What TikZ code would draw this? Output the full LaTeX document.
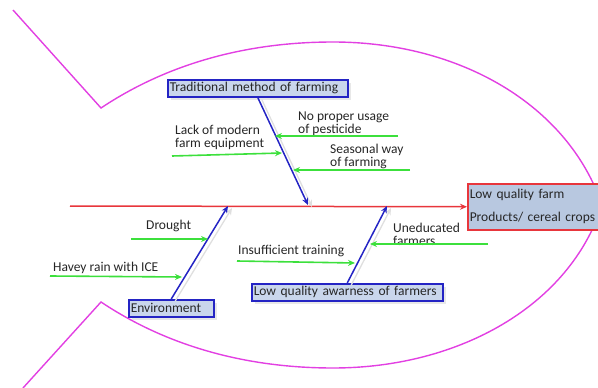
\documentclass[tikz,border=0pt]{standalone}
\usepackage{fontspec}
\setmainfont{Carlito}
\usetikzlibrary{arrows.meta,shadows}
\definecolor{fishpink}{HTML}{E240E2}
\definecolor{spinered}{HTML}{E8363C}
\definecolor{boneblue}{HTML}{2424C4}
\definecolor{twiggreen}{HTML}{3CE03C}
\definecolor{causefill}{HTML}{C9D6EC}
\definecolor{effectfill}{HTML}{B8C8E0}
\definecolor{inkgray}{HTML}{262626}
\tikzset{
  fishline/.style={draw=fishpink, line width=1.4pt},
  cause/.style={draw=boneblue, line width=1.5pt, fill=causefill, inner xsep=2pt, inner ysep=1.5pt,
    minimum height=17pt, align=left, text=inkgray, font=\fontsize{13.5}{14}\selectfont,
    drop shadow={fill=gray!35, shadow xshift=3pt, shadow yshift=-3pt}},
  effect/.style={draw=spinered, line width=1.5pt, fill=effectfill, inner xsep=2pt, inner ysep=2pt,
    minimum height=46pt, align=left, text=inkgray, font=\fontsize{13.5}{23}\selectfont},
  subcause/.style={inner sep=0pt, align=left, text=inkgray, font=\fontsize{13.5}{13}\selectfont},
  bone/.style={->, draw=boneblue, line width=1.5pt,
    preaction={draw=gray!25, line width=1.3pt, transform canvas={xshift=4pt, yshift=-2pt}}},
  twig/.style={->, draw=twiggreen, line width=1.6pt},
  spine/.style={->, draw=spinered, line width=1.5pt}
}
\begin{document}
\begin{tikzpicture}[x=1pt, y=-1pt, >={Stealth[length=7pt, width=6pt]}]
    \useasboundingbox (0,0) rectangle (598,388);

    \draw[fishline] (13,10) -- (101,108) .. controls (170,62) and (250,42) .. (333,42)
        .. controls (460,42) and (568,105) .. (602,205);
    \draw[fishline] (23,388) -- (101,302) .. controls (170,348) and (250,368) .. (333,368)
        .. controls (460,368) and (570,305) .. (602,205);

    \node[effect, text width=127pt, anchor=north west] (result) at (467,183) {Low quality farm\\Products/ cereal crops};
    \coordinate (tail) at (70,206);
    \path (tail) edge[spine] (result.west);

    \node[cause, text width=176pt, anchor=north west] (trad) at (167,79) {Traditional method of farming};
    \coordinate (trad_j) at (308,205);
    \path (trad.south) edge[bone] (trad_j);

    \node[subcause, anchor=west] (trad_t1) at (175,137) {Lack of modern\\farm equipment};
    \node[subcause, anchor=west] (trad_t2) at (298,124) {No proper usage\\of pesticide};
    \node[subcause, anchor=west] (trad_t3) at (330,156) {Seasonal way\\of farming};
    \coordinate (trad_s1) at (172,156); \coordinate (trad_e1) at (282,153);
    \coordinate (trad_s2) at (398,136); \coordinate (trad_e2) at (275,136);
    \coordinate (trad_s3) at (410,170); \coordinate (trad_e3) at (293,170);
    \path (trad_s1) edge[twig] (trad_e1);
    \path (trad_s2) edge[twig] (trad_e2);
    \path (trad_s3) edge[twig] (trad_e3);

    \node[cause, text width=81pt, anchor=north west] (env) at (128,299) {Environment};
    \coordinate (env_j) at (228,206);
    \path (env.north) edge[bone] (env_j);

    \node[subcause, anchor=west] (env_t1) at (146,226) {Drought};
    \node[subcause, anchor=west] (env_t2) at (53,268) {Havey rain with ICE};
    \coordinate (env_s1) at (131,239); \coordinate (env_e1) at (208,239);
    \coordinate (env_s2) at (50,276); \coordinate (env_e2) at (182,277);
    \path (env_s1) edge[twig] (env_e1);
    \path (env_s2) edge[twig] (env_e2);

    \node[cause, text width=187pt, anchor=north west] (aware) at (251,283) {Low quality awarness of farmers};
    \coordinate (aware_j) at (387,206);
    \path (aware.north) edge[bone] (aware_j);

    \node[subcause, anchor=west] (aware_t1) at (238,251) {Insufficient training};
    \node[subcause, anchor=west] (aware_t2) at (393,234) {Uneducated\\farmers};
    \coordinate (aware_s1) at (237,261); \coordinate (aware_e1) at (355,263);
    \coordinate (aware_s2) at (488,244); \coordinate (aware_e2) at (370,244);
    \path (aware_s1) edge[twig] (aware_e1);
    \path (aware_s2) edge[twig] (aware_e2);

\end{tikzpicture}
\end{document}
